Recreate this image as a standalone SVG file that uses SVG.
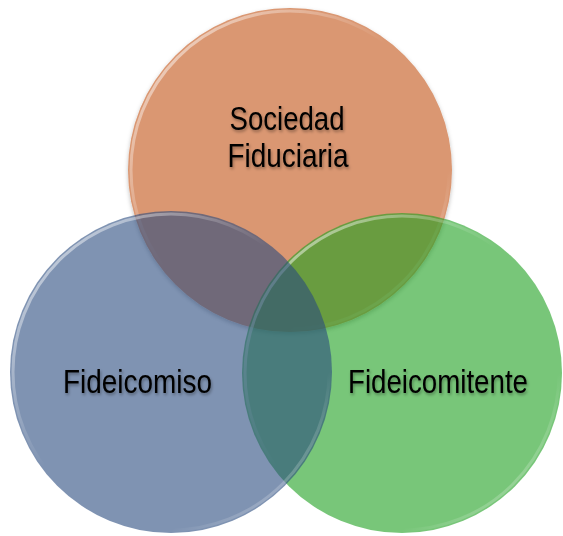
<svg xmlns="http://www.w3.org/2000/svg" width="563" height="536" viewBox="0 0 563 536">
<defs>
<style>
.lbl{font-family:"Liberation Sans",Arial,sans-serif;font-size:33px;fill:#000;filter:url(#tsh)}
.rim{fill:none;stroke:#fff;stroke-width:3;opacity:0.45}
</style>
<filter id="tsh" x="-10%" y="-30%" width="120%" height="160%">
<feDropShadow dx="1" dy="2" stdDeviation="1.5" flood-color="#000" flood-opacity="0.35"/>
</filter>
<filter id="csh" x="-10%" y="-10%" width="120%" height="120%">
<feDropShadow dx="0" dy="2" stdDeviation="2" flood-color="#000" flood-opacity="0.25"/>
</filter>
<linearGradient id="rimg" x1="0" y1="0" x2="1" y2="1">
<stop offset="0" stop-color="#fff" stop-opacity="0.7"/>
<stop offset="0.45" stop-color="#fff" stop-opacity="0"/>
<stop offset="0.75" stop-color="#fff" stop-opacity="0"/>
<stop offset="1" stop-color="#fff" stop-opacity="0.5"/>
</linearGradient>
</defs>
<rect width="563" height="536" fill="#fff"/>
<g id="sociedad-fiduciaria">
<circle cx="290" cy="170" r="162" fill="#DA9772" filter="url(#csh)"/>
<circle cx="290" cy="170" r="159" fill="none" stroke="url(#rimg)" stroke-width="3"/>
</g>
<g id="fideicomitente">
<circle cx="402" cy="373" r="160" fill="rgb(30,160,32)" fill-opacity="0.6"/>
<circle cx="402" cy="373" r="157" fill="none" stroke="url(#rimg)" stroke-width="3"/>
</g>
<g id="fideicomiso">
<circle cx="171" cy="372" r="161" fill="rgb(42,75,127)" fill-opacity="0.6"/>
<circle cx="171" cy="372" r="158" fill="none" stroke="url(#rimg)" stroke-width="3"/>
</g>
<g id="labels">
<text class="lbl" x="287" y="130" text-anchor="middle" textLength="115" lengthAdjust="spacingAndGlyphs">Sociedad</text>
<text class="lbl" x="288" y="167" text-anchor="middle" textLength="121" lengthAdjust="spacingAndGlyphs">Fiduciaria</text>
<text class="lbl" x="63" y="393" textLength="149" lengthAdjust="spacingAndGlyphs">Fideicomiso</text>
<text class="lbl" x="348" y="393" textLength="180" lengthAdjust="spacingAndGlyphs">Fideicomitente</text>
</g>
<g id="connectors"/>
</svg>
